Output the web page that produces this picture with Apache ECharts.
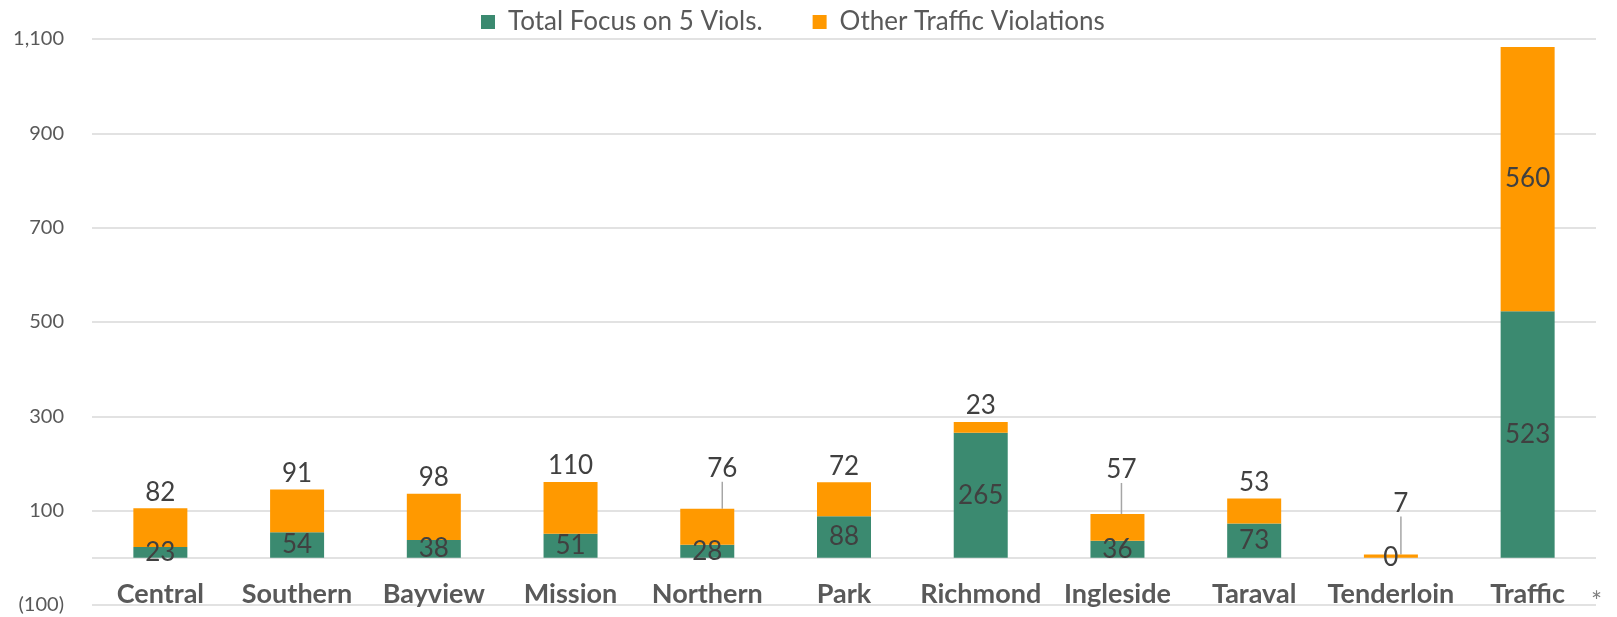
<!DOCTYPE html>
<html>
<head>
<meta charset="utf-8">
<script src="https://cdn.jsdelivr.net/npm/echarts@6/dist/echarts.min.js"></script>
<style>
  html, body { margin: 0; padding: 0; background: #fff; }
  #chart { width: 1617px; height: 617px; }
</style>
</head>
<body>
<div id="chart"></div>
<script>
const districts = ['Central', 'Southern', 'Bayview', 'Mission', 'Northern', 'Park',
  'Richmond', 'Ingleside', 'Taraval', 'Tenderloin', 'Traffic']
const focusFive = [23, 54, 38, 51, 28, 88, 265, 36, 73, 0, 523]
const otherViolations = [82, 91, 98, 110, 76, 72, 23, 57, 53, 7, 560]
const yTicks = { min: -100, max: 1100, interval: 200 }

// labels that excel had dragged up with a leader line
const movedLabels = {
  Northern: { dx: 15, dy: -24 },
  Ingleside: { dx: 4, dy: -28 },
  Tenderloin: { dx: 10, dy: -35 }
}

const labelFont = { fontFamily: 'Lato', fontSize: 26, color: '#404040' }

const otherData = otherViolations.map((v, i) => {
  const name = districts[i]
  const item = { value: v }
  if (name === 'Traffic') {
    item.label = { position: 'inside' }
  }
  if (movedLabels[name]) {
    item.labelLine = { show: true, lineStyle: { color: '#a6a6a6', width: 1.5 } }
  }
  return item
})

const chart = echarts.init(document.getElementById('chart'))

const option = {
  animation: false,
  backgroundColor: '#fff',
  textStyle: { fontFamily: 'Lato' },
  legend: {
    data: ['Total Focus on 5 Viols.', 'Other Traffic Violations'],
    left: 476,
    top: 4,
    itemWidth: 14,
    itemHeight: 14,
    itemGap: 50,
    icon: 'rect',
    textStyle: { fontFamily: 'Lato', fontSize: 26, color: '#595959', padding: [0, 0, 0, 8] }
  },
  grid: { left: 92, right: 21, top: 39, bottom: 12, outerBoundsMode: 'none', containLabel: false },
  xAxis: {
    type: 'category',
    data: districts,
    // labels sit at the bottom of the plot, the zero line is a markLine
    axisLine: { show: false, onZero: false },
    axisTick: { show: false },
    axisLabel: {
      interval: 0,
      hideOverlap: false,
      margin: -24,
      fontFamily: 'Lato',
      fontWeight: 'bold',
      fontSize: 27,
      color: '#595959'
    }
  },
  yAxis: {
    type: 'value',
    min: yTicks.min,
    max: yTicks.max,
    interval: yTicks.interval,
    axisLine: { show: false },
    axisTick: { show: false },
    splitLine: { lineStyle: { color: '#d9d9d9', width: 1.5 } },
    axisLabel: {
      margin: 28,
      fontFamily: 'Lato',
      fontSize: 20,
      color: '#595959',
      formatter: function (v) {
        if (v < 0) return '(' + Math.abs(v).toLocaleString('en-US') + ')'
        return v.toLocaleString('en-US')
      }
    }
  },
  series: [
    {
      name: 'Total Focus on 5 Viols.',
      type: 'bar',
      stack: 'total',
      barWidth: 54,
      z: 3,
      itemStyle: { color: '#3b8a70' },
      label: Object.assign({ show: true, position: 'inside' }, labelFont),
      markLine: {
        silent: true,
        z: 1,
        symbol: 'none',
        label: { show: false },
        lineStyle: { color: '#d9d9d9', width: 1.5, type: 'solid' },
        data: [{ yAxis: 0 }]
      },
      data: focusFive
    },
    {
      name: 'Other Traffic Violations',
      type: 'bar',
      stack: 'total',
      barWidth: 54,
      z: 3,
      itemStyle: { color: '#ff9900' },
      label: Object.assign({ show: true, position: 'top', distance: 3 }, labelFont),
      labelLayout: function (params) {
        const m = movedLabels[districts[params.dataIndex]]
        if (!m) return {}
        return { dx: m.dx, dy: m.dy }
      },
      data: otherData
    }
  ],
  graphic: [
    {
      type: 'text',
      left: 1591,
      top: 590,
      style: { text: '*', fontFamily: 'Lato', fontSize: 26, fill: '#7f7f7f' }
    }
  ]
}

chart.setOption(option)
</script>
</body>
</html>
